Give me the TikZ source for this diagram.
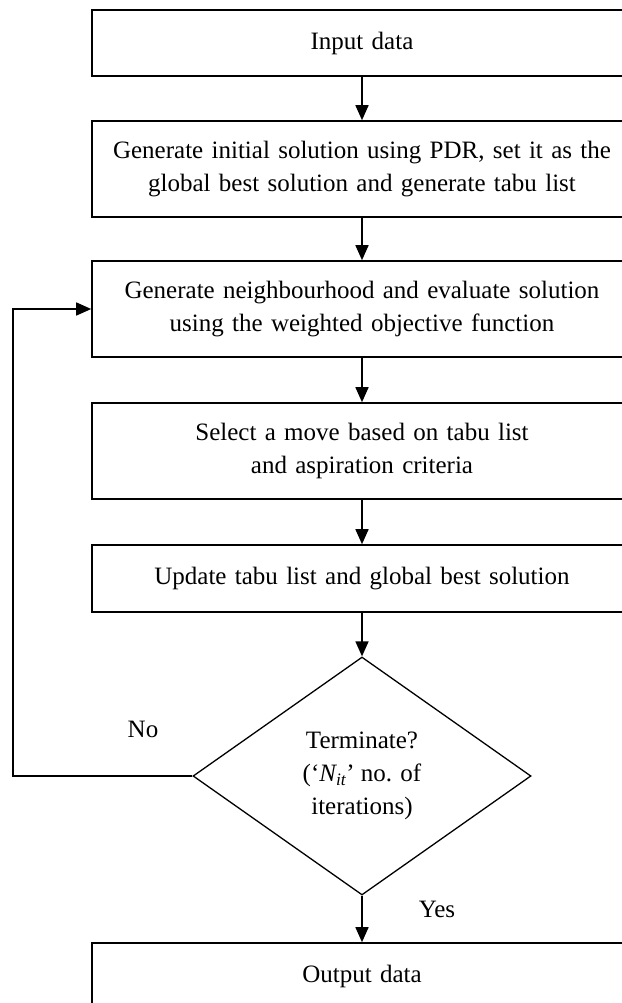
\documentclass[tikz,border=0pt]{standalone}
\usepackage{fontspec}
\setmainfont{Liberation Serif}
\usetikzlibrary{arrows.meta,shapes.geometric}
\begin{document}
\begin{tikzpicture}[x=1pt,y=-1pt,
  txt/.style={font=\fontsize{25}{33}\selectfont},
  box/.style={txt, draw, line width=1.6pt, minimum width=540pt, text width=530pt, align=center, inner sep=0pt},
  dec/.style={txt, draw, line width=1.3pt, shape=diamond, aspect=1.42, minimum width=338pt, minimum height=238pt, inner sep=0pt, align=center},
  conn/.style={line width=1.6pt, -{Triangle[length=15pt,width=13pt]}}]
\useasboundingbox (0,0) rectangle (621,1003);
\node[box, minimum height=66pt] (b1) at (362,43) {Input data};
\node[box, minimum height=96pt] (b2) at (362,169) {Generate initial solution using PDR, set it as the\\global best solution and generate tabu list};
\node[box, minimum height=96pt] (b3) at (362,309) {Generate neighbourhood and evaluate solution\\using the weighted objective function};
\node[box, minimum height=96pt] (b4) at (362,451) {Select a move based on tabu list\\and aspiration criteria};
\node[box, minimum height=67pt] (b5) at (362,578.5) {Update tabu list and global best solution};
\node[dec] (d) at (362,776) {Terminate?\\(‘\textit{N\textsubscript{it}}’ no. of\\iterations)};
\node[box, minimum height=66pt] (b6) at (362,976) {Output data};
\node[txt] (no) at (143,729) {No};
\node[txt] (yes) at (437,909) {Yes};
\coordinate (lp) at (13,776);
\draw[conn] (b1.south) -- (b2.north);
\draw[conn] (b2.south) -- (b3.north);
\draw[conn] (b3.south) -- (b4.north);
\draw[conn] (b4.south) -- (b5.north);
\draw[conn] (b5.south) -- (d.north);
\draw[conn] (d.south) -- (b6.north);
\draw[conn] (d.west) -- (lp) |- (b3.west);
\end{tikzpicture}
\end{document}
